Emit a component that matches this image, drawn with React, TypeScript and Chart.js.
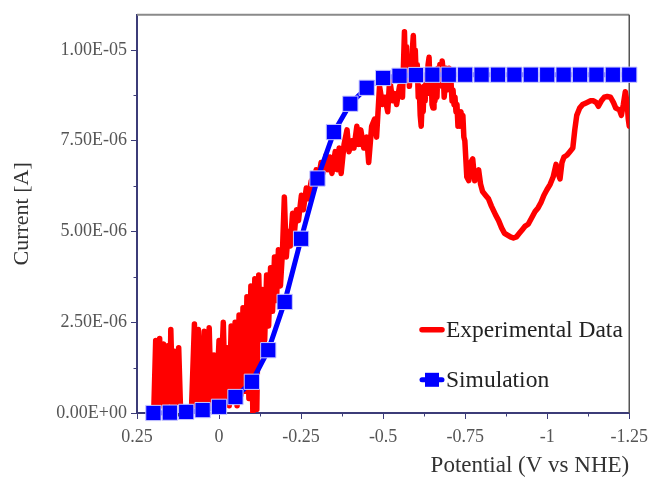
import { useEffect, useRef } from "react";
import { Chart, registerables } from "chart.js";

Chart.register(...registerables);

// ---- axis ticks ----
const xTickValues = [0.25, 0, -0.25, -0.5, -0.75, -1, -1.25];
const xTickLabels = ["0.25", "0", "-0.25", "-0.5", "-0.75", "-1", "-1.25"];
const xMinorTickValues = [0.125, -0.125, -0.375, -0.625, -0.875, -1.125];
const yTickValues = [0, 2.5e-6, 5e-6, 7.5e-6, 1e-5];
const yTickLabels = ["0.00E+00", "2.50E-06", "5.00E-06", "7.50E-06", "1.00E-05"];
const yMinorTickValues = [1.25e-6, 3.75e-6, 6.25e-6, 8.75e-6];
const xAxisTitle = "Potential (V vs NHE)";
const yAxisTitle = "Current [A]";

// ---- Simulation series (V, µA) ----
const simPotential = [
  0.2, 0.15, 0.1, 0.05, 0, -0.05, -0.1, -0.15, -0.2, -0.25, -0.3, -0.35, -0.4, -0.45, -0.5,
  -0.55, -0.6, -0.65, -0.7, -0.75, -0.8, -0.85, -0.9, -0.95, -1, -1.05, -1.1, -1.15, -1.2, -1.25,
];
const simCurrentMicroA = [
  0.0, 0.01, 0.03, 0.08, 0.17, 0.44, 0.86, 1.73, 3.06, 4.8, 6.46, 7.74, 8.52, 8.96, 9.23,
  9.29, 9.31, 9.32, 9.32, 9.32, 9.32, 9.32, 9.32, 9.32, 9.32, 9.32, 9.32, 9.32, 9.32, 9.32,
];

// ---- Experimental series (V, µA) ----
const expPotential = [
  0.199, 0.193, 0.187, 0.181, 0.175, 0.169, 0.162, 0.156, 0.15, 0.147, 0.141, 0.135, 0.129, 0.123, 0.117,
  0.102, 0.084, 0.075, 0.069, 0.063, 0.054, 0.045, 0.039, 0.03, 0.024, 0.015, 0.009, 0.0, -0.003, -0.013,
  -0.019, -0.025, -0.031, -0.037, -0.043, -0.049, -0.055, -0.061, -0.067, -0.073, -0.079, -0.085, -0.091, -0.097, -0.103,
  -0.109, -0.115, -0.121, -0.127, -0.133, -0.139, -0.145, -0.151, -0.157, -0.163, -0.169, -0.175, -0.181, -0.187, -0.193,
  -0.199, -0.205, -0.211, -0.217, -0.224, -0.23, -0.236, -0.242, -0.251, -0.257, -0.266, -0.272, -0.281, -0.287, -0.296,
  -0.302, -0.311, -0.317, -0.326, -0.332, -0.338, -0.344, -0.354, -0.36, -0.366, -0.372, -0.381, -0.39, -0.396, -0.405,
  -0.411, -0.42, -0.426, -0.432, -0.441, -0.45, -0.456, -0.465, -0.474, -0.48, -0.489, -0.498, -0.505, -0.514, -0.52,
  -0.529, -0.535, -0.541, -0.55,
  -0.553, -0.556, -0.559, -0.562, -0.565, -0.568, -0.571, -0.574, -0.577, -0.58, -0.583, -0.586, -0.589, -0.592, -0.595,
  -0.598, -0.601, -0.604, -0.607, -0.61, -0.613, -0.616, -0.619, -0.622, -0.625, -0.628, -0.631, -0.634, -0.637, -0.64,
  -0.643, -0.646, -0.649, -0.652, -0.655, -0.658, -0.661, -0.664, -0.667, -0.67, -0.673, -0.677, -0.68, -0.683, -0.686,
  -0.689, -0.692, -0.695, -0.698, -0.701, -0.704, -0.707, -0.71, -0.713, -0.716, -0.719, -0.722, -0.725, -0.728, -0.731,
  -0.734, -0.737, -0.74, -0.743, -0.746, -0.749,
  -0.755, -0.761, -0.767, -0.773, -0.779, -0.785, -0.791, -0.797, -0.803,
  -0.812, -0.821, -0.83, -0.843, -0.852, -0.861, -0.87, -0.879, -0.888, -0.897, -0.906, -0.915, -0.924, -0.933, -0.942,
  -0.954, -0.963, -0.972, -0.981, -0.99, -0.999, -1.009, -1.018, -1.027, -1.033, -1.039, -1.045, -1.051, -1.06, -1.069,
  -1.078, -1.084, -1.09, -1.099, -1.108, -1.12, -1.132, -1.141, -1.15, -1.156, -1.165, -1.174, -1.183, -1.193, -1.202,
  -1.209, -1.22, -1.226, -1.232, -1.238, -1.244, -1.247, -1.25,
];
const expCurrentMicroA = [
  0.0, 2.0, 0.1, 2.05, 0.2, 1.9, 0.1, 1.85, 0.3, 2.3, 0.2, 1.7, 0.1, 1.8, 0.0,
  0.05, 0.1, 2.45, 0.2, 2.3, 0.1, 2.25, 0.3, 2.35, 0.2, 1.6, 0.2, 2.0, 0.3, 2.5,
  0.3, 1.8, 0.2, 2.4, 0.4, 2.5, 0.2, 2.7, 0.5, 2.9, 0.6, 3.2, 0.4, 3.5, 0.0,
  3.7, 0.1, 3.8, 1.6, 3.4, 2.0, 3.8, 2.4, 4.0, 2.8, 4.3, 3.1, 4.5, 3.5, 4.4,
  5.95, 4.3, 5.0, 4.6, 5.5, 5.0, 5.6, 5.3, 6.0, 5.6, 6.2, 5.9, 6.4, 6.1, 6.7,
  6.4, 6.9, 6.6, 7.1, 6.7, 7.05, 6.6, 7.2, 6.7, 7.3, 6.6, 7.4, 7.8, 7.2, 7.5,
  7.3, 7.9, 7.4, 7.8, 7.3, 7.6, 6.9, 7.9, 8.1, 7.6, 9.0, 8.5, 8.7, 8.3, 9.2,
  8.6, 8.8, 8.5, 9.0,
  8.8, 9.2, 8.7, 9.6, 10.5, 9.4, 10.1, 9.3, 9.8, 9.0, 9.6, 9.2, 10.0, 10.4, 9.6,
  10.0, 9.2, 9.6, 8.7, 9.0, 8.2, 7.9, 8.6, 8.3, 9.0, 8.6, 9.3, 8.8, 9.6, 9.8,
  9.0, 9.4, 8.5, 8.4, 9.0, 8.6, 9.2, 8.7, 9.5, 9.0, 9.6, 9.1, 9.7, 9.4, 8.7,
  9.0, 9.5, 8.9, 9.3, 9.5, 8.9, 9.1, 8.6, 8.9, 8.5, 8.7, 8.3, 8.5, 7.9, 8.3,
  7.9, 8.3, 8.1, 8.2, 7.6, 7.5,
  6.5, 6.4, 6.9, 7.0, 6.4, 6.6, 6.7, 6.3, 6.1,
  6.0, 5.9, 5.7, 5.45, 5.3, 5.1, 4.95, 4.9, 4.85, 4.82, 4.85, 4.95, 5.05, 5.15, 5.2,
  5.4, 5.55, 5.65, 5.8, 6.0, 6.15, 6.3, 6.5, 6.85, 6.6, 6.45, 6.9, 7.05, 7.1, 7.2,
  7.3, 7.8, 8.2, 8.4, 8.5, 8.55, 8.6, 8.6, 8.55, 8.45, 8.6, 8.7, 8.72, 8.7, 8.55,
  8.4, 8.35, 8.2, 8.5, 8.85, 8.5, 8.1, 7.9,
];

const AXIS_COLOR = "#3c3c78";
const SERIF = "'Liberation Serif', serif";
const TICK_FONT = { family: SERIF, size: 18 };

const framePlugin = {
  id: "frameLines",
  beforeDatasetsDraw(chart: any) {
    const { ctx, chartArea } = chart;
    ctx.save();
    ctx.strokeStyle = "#8a8a8a";
    ctx.lineWidth = 2;
    ctx.beginPath();
    ctx.moveTo(chartArea.left, chartArea.top);
    ctx.lineTo(chartArea.right, chartArea.top);
    ctx.stroke();
    ctx.strokeStyle = "#555555";
    ctx.lineWidth = 1.5;
    ctx.beginPath();
    ctx.moveTo(chartArea.right, chartArea.top);
    ctx.lineTo(chartArea.right, chartArea.bottom);
    ctx.stroke();
    ctx.restore();
  },
  afterDraw(chart: any, _args: any, opts: any) {
    const { ctx, chartArea, scales } = chart;
    ctx.save();
    ctx.strokeStyle = AXIS_COLOR;
    ctx.lineWidth = 1;
    xMinorTickValues.forEach((v) => {
      const px = Math.round(scales.x.getPixelForValue(v)) + 0.5;
      ctx.beginPath();
      ctx.moveTo(px, chartArea.bottom);
      ctx.lineTo(px, chartArea.bottom + 3.5);
      ctx.stroke();
    });
    yMinorTickValues.forEach((v) => {
      const py = Math.round(scales.y.getPixelForValue(v)) + 0.5;
      ctx.beginPath();
      ctx.moveTo(chartArea.left, py);
      ctx.lineTo(chartArea.left - 3.5, py);
      ctx.stroke();
    });
    // x-axis title, right-aligned under the axis
    ctx.fillStyle = opts.titleColor;
    ctx.font = opts.xTitleFont;
    ctx.textAlign = "right";
    ctx.textBaseline = "alphabetic";
    ctx.fillText(xAxisTitle, chartArea.right, chartArea.bottom + opts.xTitleDy);
    ctx.restore();
  },
};

const insideLegendPlugin = {
  id: "insideLegend",
  afterDatasetsDraw(chart: any, _args: any, opts: any) {
    const { ctx, chartArea } = chart;
    const datasets = chart.data.datasets;
    ctx.save();
    ctx.font = opts.font;
    ctx.textBaseline = "middle";
    ctx.fillStyle = opts.color;
    datasets.forEach((ds: any, i: number) => {
      const y = chartArea.top + opts.rowY[i];
      const x0 = chartArea.left + opts.x;
      const x1 = x0 + opts.lineLength;
      ctx.strokeStyle = ds.borderColor;
      ctx.lineWidth = ds.borderWidth;
      ctx.lineCap = "round";
      ctx.beginPath();
      ctx.moveTo(x0, y);
      ctx.lineTo(x1, y);
      ctx.stroke();
      if (ds.pointRadius > 0) {
        const s = opts.markerSize;
        ctx.fillStyle = ds.pointBackgroundColor;
        ctx.fillRect((x0 + x1) / 2 - s / 2, y - s / 2, s, s);
      }
      ctx.fillStyle = opts.color;
      ctx.fillText(ds.label, x1 + opts.textGap, y + opts.textDy);
    });
    ctx.restore();
  },
};

export default function App() {
  const canvasRef = useRef<HTMLCanvasElement | null>(null);

  useEffect(() => {
    const canvas = canvasRef.current;
    if (!canvas) return;
    const chart = new Chart(canvas, {
      type: "line",
      data: {
        datasets: [
          {
            label: "Experimental Data",
            data: expPotential.map((x, i) => ({ x, y: expCurrentMicroA[i] * 1e-6 })),
            borderColor: "#ff0000",
            backgroundColor: "#ff0000",
            borderWidth: 5.5,
            pointRadius: 0,
            tension: 0,
            borderJoinStyle: "round",
            borderCapStyle: "round",
            order: 1,
          },
          {
            label: "Simulation",
            data: simPotential.map((x, i) => ({ x, y: simCurrentMicroA[i] * 1e-6 })),
            borderColor: "#0000ff",
            backgroundColor: "#0000ff",
            borderWidth: 5,
            pointStyle: "rect",
            pointRadius: 10.8,
            pointBackgroundColor: "#0000ff",
            pointBorderColor: "#c8c8ff",
            pointBorderWidth: 1,
            tension: 0,
            order: 0,
            clip: false,
          },
        ] as any,
      },
      options: {
        responsive: false,
        devicePixelRatio: 1,
        animation: false,
        events: [],
        layout: { padding: { left: 0, right: 20, top: 13, bottom: 0 } },
        plugins: {
          legend: { display: false },
          tooltip: { enabled: false },
          frameLines: {
            titleColor: "#333333",
            xTitleFont: `23px ${SERIF}`,
            xTitleDy: 59,
          },
          insideLegend: {
            x: 285,
            rowY: [315, 365],
            lineLength: 20,
            markerSize: 14,
            textGap: 4,
            textDy: 1,
            font: `23.5px ${SERIF}`,
            color: "#222222",
          },
        } as any,
        scales: {
          x: {
            type: "linear",
            reverse: true,
            min: -1.25,
            max: 0.25,
            afterFit: (scale: any) => {
              scale.height = 64;
            },
            afterBuildTicks: (scale: any) => {
              scale.ticks = xTickValues.map((value) => ({ value }));
            },
            ticks: {
              autoSkip: false,
              maxRotation: 0,
              padding: 7,
              color: "#555555",
              font: TICK_FONT,
              callback: (_v: any, index: number) => xTickLabels[index],
            },
            grid: {
              drawOnChartArea: false,
              tickLength: 6,
              tickColor: AXIS_COLOR,
              tickWidth: 1,
            },
            border: { display: true, color: AXIS_COLOR, width: 2 },
            title: { display: false },
          },
          y: {
            type: "linear",
            min: 0,
            max: 1.097e-5,
            afterFit: (scale: any) => {
              scale.width = 137;
            },
            afterBuildTicks: (scale: any) => {
              scale.ticks = yTickValues.map((value) => ({ value }));
            },
            ticks: {
              autoSkip: false,
              padding: 4,
              color: "#555555",
              font: TICK_FONT,
              callback: (_v: any, index: number) => yTickLabels[index],
            },
            grid: {
              drawOnChartArea: false,
              tickLength: 6,
              tickColor: AXIS_COLOR,
              tickWidth: 1,
            },
            border: { display: true, color: AXIS_COLOR, width: 2 },
            title: {
              display: true,
              text: yAxisTitle,
              color: "#333333",
              font: { family: SERIF, size: 22 },
              padding: { top: 9, bottom: 0 },
            },
          },
        },
      } as any,
      plugins: [framePlugin, insideLegendPlugin],
    });
    return () => chart.destroy();
  }, []);

  return (
    <div style={{ position: "absolute", left: 0, top: 0, width: 655, height: 477, background: "#fff" }}>
      <canvas ref={canvasRef} width={655} height={477} style={{ display: "block" }} />
    </div>
  );
}
